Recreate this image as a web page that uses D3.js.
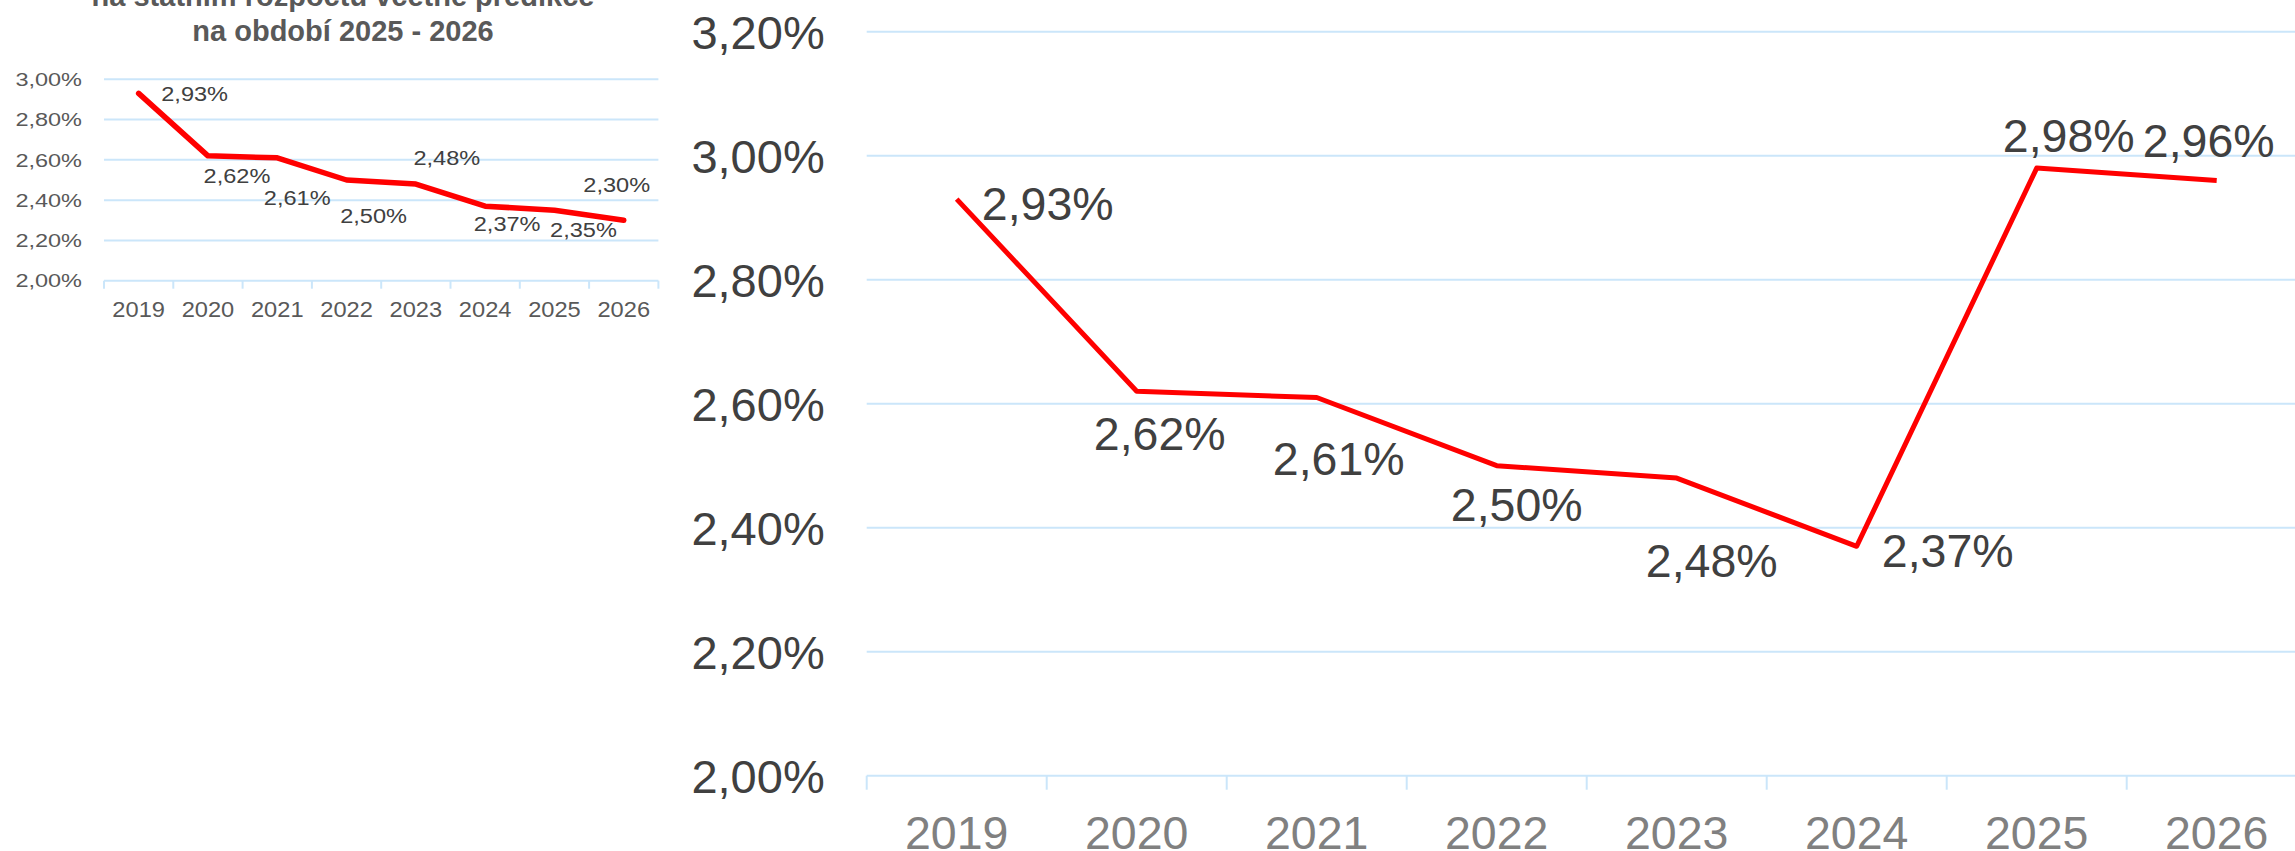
<!DOCTYPE html>
<html>
<head>
<meta charset="utf-8">
<script src="https://cdn.jsdelivr.net/npm/d3@7"></script>
<style>
    body { margin: 0; background: #fff; }
    svg { display: block; font-family: "Liberation Sans", Arial, sans-serif; }
</style>
</head>
<body>
<div id="chart"></div>
<script>
// data
const years = ["2019", "2020", "2021", "2022", "2023", "2024", "2025", "2026"];
const mainValues = [2.93, 2.62, 2.61, 2.50, 2.48, 2.37, 2.98, 2.96];
const smallValues = [2.93, 2.62, 2.61, 2.50, 2.48, 2.37, 2.35, 2.30];
const mainTicks = [2.0, 2.2, 2.4, 2.6, 2.8, 3.0, 3.2];
const smallTicks = [2.0, 2.2, 2.4, 2.6, 2.8, 3.0];
const titleLines = ["na státním rozpočtu včetně predikce", "na období 2025 - 2026"];

const width = 2295;
const height = 851;

// label nudges (dx, dy from the point), placed by hand like in the original sheet
const mainLabelNudge = [[91, 4], [23, 42], [22, 61], [20, 39], [35, 82], [91, 4], [32, -33], [-8, -40]];
const smallLabelNudge = [[56, 1], [29, 20], [20, 40], [27, 36], [31, -26], [22, 18], [29, 20], [-7, -35]];

const cz = d3.formatLocale({ decimal: ",", thousands: " ", grid: [3], currency: ["", " Kč"] });
const pct = v => cz.format(".2f")(v) + "%";

const gridColor = "#cbe6fa";

const svg = d3.select("#chart")
    .append("svg")
        .attr("width", width)
        .attr("height", height);

// draws one line chart; opts holds the geometry and the text styling
function drawChart(opts) {
    const g = svg.append("g");

    const x = d3.scaleBand()
        .domain(years)
        .range([opts.left, opts.left + opts.band * years.length])
        .padding(0);

    const y = d3.scaleLinear()
        .domain([2.0, opts.ticks[opts.ticks.length - 1]])
        .range([opts.bottom, opts.top]);

    // gridlines
    g.selectAll("line.grid")
        .data(opts.ticks)
        .join("line")
            .attr("class", "grid")
            .attr("x1", x.range()[0])
            .attr("x2", x.range()[1])
            .attr("y1", d => y(d))
            .attr("y2", d => y(d))
            .attr("stroke", gridColor)
            .attr("stroke-width", opts.gridWidth);

    // category ticks at band edges
    const edges = years.map(d => x(d)).concat([x.range()[1]]);
    g.selectAll("line.xtick")
        .data(edges)
        .join("line")
            .attr("class", "xtick")
            .attr("x1", d => d)
            .attr("x2", d => d)
            .attr("y1", y(2.0))
            .attr("y2", y(2.0) + opts.tickLen)
            .attr("stroke", gridColor)
            .attr("stroke-width", opts.gridWidth);

    // y labels
    g.selectAll("text.ylabel")
        .data(opts.ticks)
        .join("text")
            .attr("class", "ylabel")
            .attr("text-anchor", "end")
            .attr("transform", d => `translate(${x.range()[0] - opts.yPad}, ${y(d) + opts.yFont * 0.358}) scale(${opts.yStretch}, 1)`)
            .attr("font-size", opts.yFont)
            .attr("fill", opts.yColor)
            .text(d => pct(d));

    // x labels
    g.selectAll("text.xlabel")
        .data(years)
        .join("text")
            .attr("class", "xlabel")
            .attr("text-anchor", "middle")
            .attr("transform", d => `translate(${x(d) + x.bandwidth() / 2}, ${opts.xBase}) scale(${opts.xStretch}, 1)`)
            .attr("font-size", opts.xFont)
            .attr("fill", opts.xColor)
            .text(d => d);

    // the line
    const line = d3.line()
        .x((d, i) => x(years[i]) + x.bandwidth() / 2)
        .y(d => y(d));

    g.append("path")
        .datum(opts.values)
        .attr("d", line)
        .attr("fill", "none")
        .attr("stroke", "#ff0000")
        .attr("stroke-width", opts.lineWidth)
        .attr("stroke-linejoin", "round")
        .attr("stroke-linecap", opts.cap);

    // data labels
    g.selectAll("text.dlabel")
        .data(opts.values)
        .join("text")
            .attr("class", "dlabel")
            .attr("text-anchor", "middle")
            .attr("transform", (d, i) => {
                const cx = x(years[i]) + x.bandwidth() / 2 + opts.nudge[i][0];
                const cy = y(d) + opts.nudge[i][1] + opts.dFont * 0.358;
                return `translate(${cx}, ${cy}) scale(${opts.dStretch}, 1)`;
            })
            .attr("font-size", opts.dFont)
            .attr("fill", "#404040")
            .text(d => pct(d));

    return g;
}

// small inset chart (left)
const small = drawChart({
    values: smallValues,
    ticks: smallTicks,
    left: 104, band: 69.3,
    top: 79.3, bottom: 280.7,
    gridWidth: 2, tickLen: 8,
    yPad: 22, yFont: 18.8, yStretch: 1.25, yColor: "#595959",
    xBase: 316.7, xFont: 21.5, xStretch: 1.1, xColor: "#595959",
    dFont: 19.8, dStretch: 1.19,
    lineWidth: 5.5, cap: "round",
    nudge: smallLabelNudge
});

small.selectAll("text.title")
    .data(titleLines)
    .join("text")
        .attr("class", "title")
        .attr("x", 343)
        .attr("y", (d, i) => 6 + i * 34.5)
        .attr("text-anchor", "middle")
        .attr("font-size", 29)
        .attr("font-weight", "bold")
        .attr("fill", "#595959")
        .text(d => d);

// main chart (right)
drawChart({
    values: mainValues,
    ticks: mainTicks,
    left: 866.7, band: 180,
    top: 31.7, bottom: 775.7,
    gridWidth: 2, tickLen: 14,
    yPad: 42, yFont: 47, yStretch: 1, yColor: "#404040",
    xBase: 848.5, xFont: 46.5, xStretch: 1, xColor: "#808080",
    dFont: 46.5, dStretch: 1,
    lineWidth: 5, cap: "butt",
    nudge: mainLabelNudge
});
</script>
</body>
</html>
